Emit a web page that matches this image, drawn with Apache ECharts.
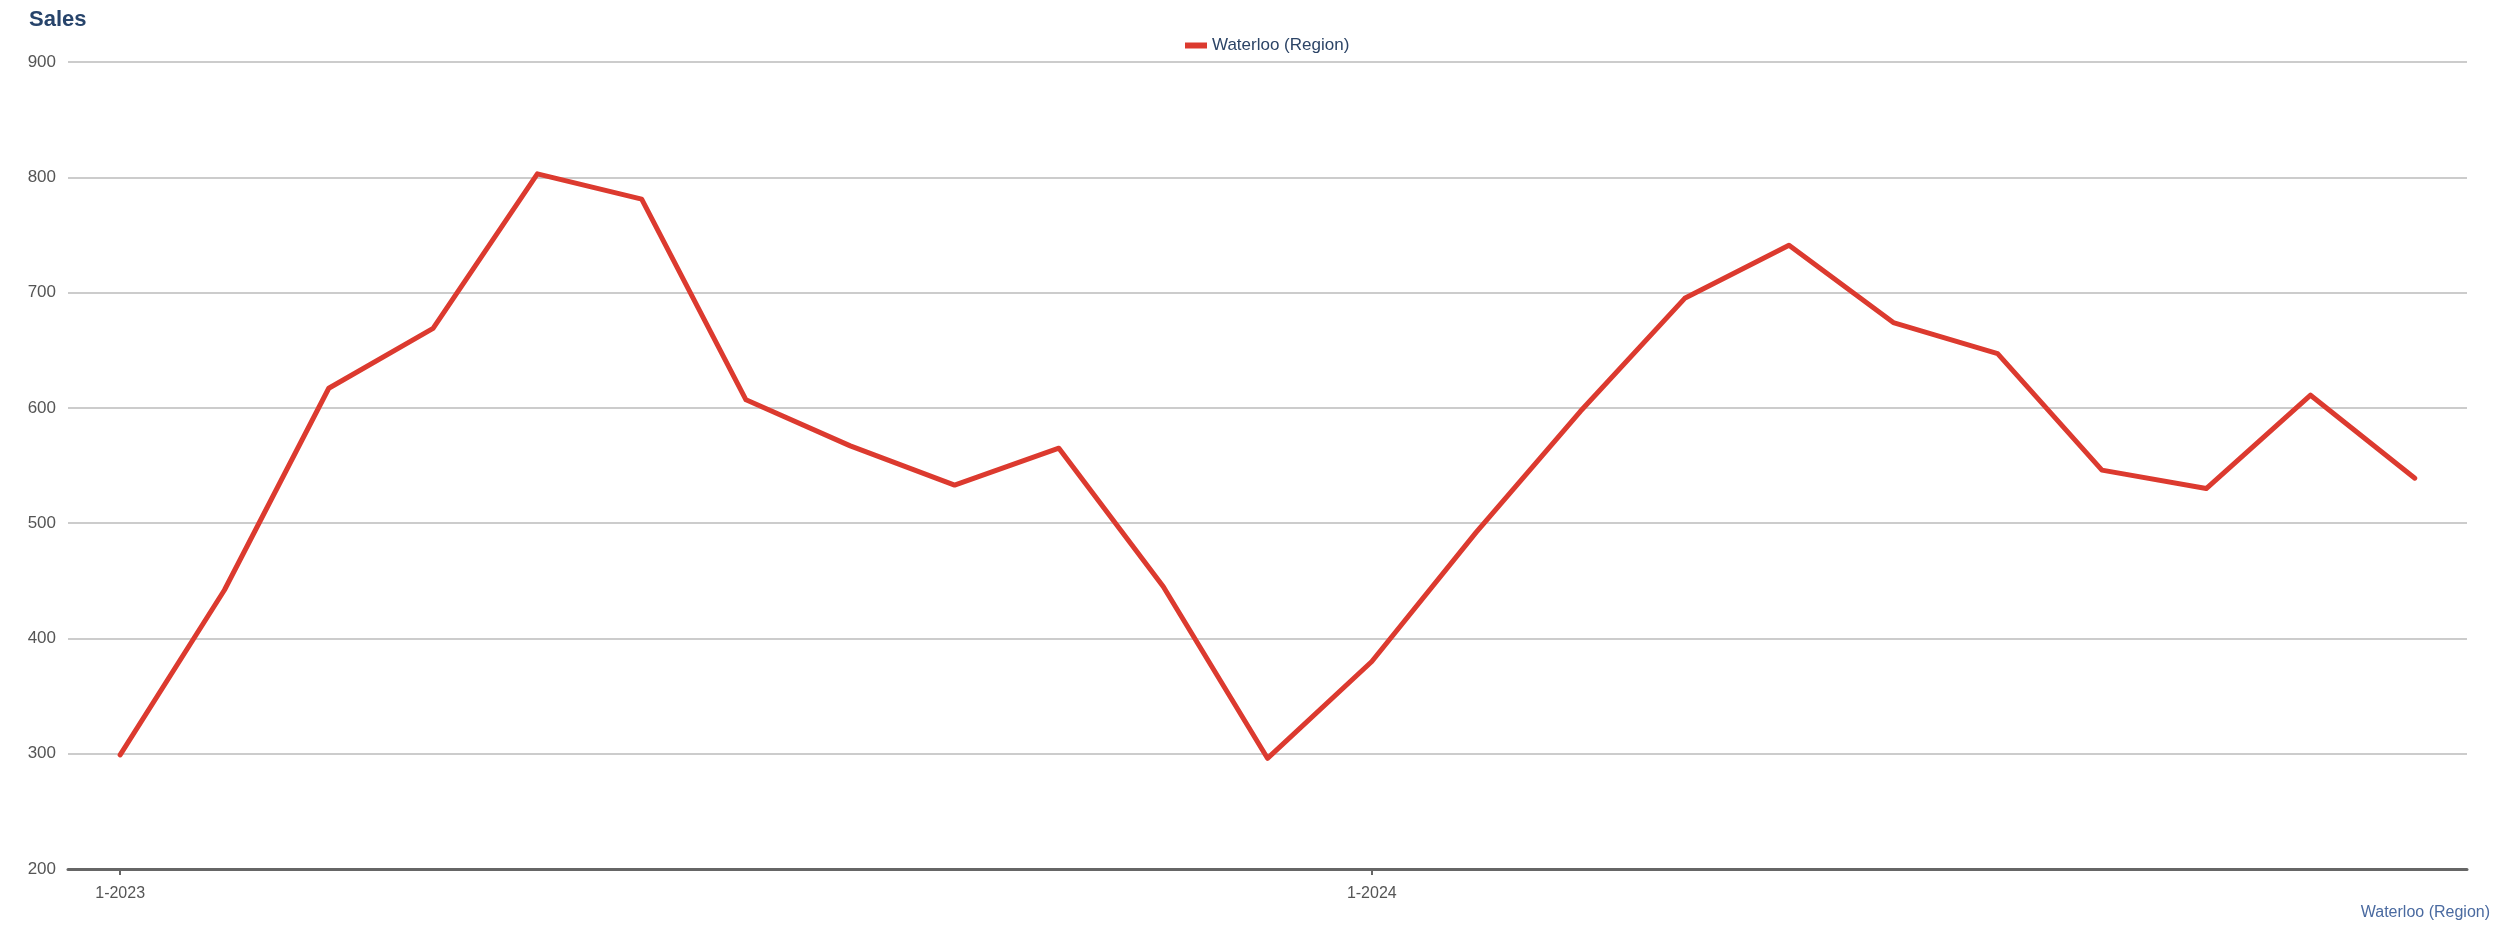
<!DOCTYPE html>
<html>
<head>
<meta charset="utf-8">
<script src="https://cdn.jsdelivr.net/npm/echarts@6/dist/echarts.min.js"></script>
<style>
html,body{margin:0;padding:0;background:#fff;}
#chart{width:2500px;height:929px;}
</style>
</head>
<body>
<div id="chart"></div>
<script>
const categories = ['1-2023','2-2023','3-2023','4-2023','5-2023','6-2023','7-2023','8-2023','9-2023','10-2023','11-2023','12-2023',
  '1-2024','2-2024','3-2024','4-2024','5-2024','6-2024','7-2024','8-2024','9-2024','10-2024','11-2024'];
const salesWaterloo = [299, 442, 617, 669, 803, 781, 607, 567, 533, 565, 445, 296, 380, 492, 597, 695, 741, 674, 647, 546, 530, 611, 539];
const seriesName = 'Waterloo (Region)';
const chartTitle = 'Sales';
const shownLabels = ['1-2023', '1-2024'];

const chart = echarts.init(document.getElementById('chart'));
const fontFam = 'Liberation Sans, Arial, sans-serif';
chart.setOption({
  animation: false,
  backgroundColor: '#ffffff',
  title: [
    { text: chartTitle, left: 24, top: 4, textStyle: { fontFamily: fontFam, fontSize: 22, fontWeight: 'bold', color: '#27446b' } },
    { text: seriesName, right: 5, top: 900, textStyle: { fontFamily: fontFam, fontSize: 16, fontWeight: 'normal', color: '#4a6aa0' } }
  ],
  legend: {
    data: [seriesName],
    left: 1180, top: 32,
    itemWidth: 22, itemHeight: 6, itemGap: 10,
    icon: 'rect',
    textStyle: { fontFamily: fontFam, fontSize: 17, color: '#2c4466' }
  },
  grid: { left: 68, right: 33, top: 62, bottom: 60, containLabel: false },
  xAxis: {
    type: 'category',
    data: categories,
    boundaryGap: true,
    axisLine: { show: true, lineStyle: { color: '#666666', width: 3 } },
    axisTick: { show: true, alignWithLabel: true, length: 6, lineStyle: { color: '#666666', width: 2 },
      interval: (i, v) => shownLabels.includes(v) },
    axisLabel: { interval: (i, v) => shownLabels.includes(v), margin: 17, fontFamily: fontFam, fontSize: 16, color: '#555555' },
    splitLine: { show: false }
  },
  yAxis: {
    type: 'value',
    min: 200, max: 900, interval: 100,
    axisLine: { show: false },
    axisTick: { show: false },
    axisLabel: { margin: 12, verticalAlign: 'middle', padding: [12, 0, 0, 0], fontFamily: fontFam, fontSize: 17, color: '#555555' },
    splitLine: { show: true, lineStyle: { color: '#bbbbbb', width: 1.5 } }
  },
  series: [{
    name: seriesName,
    type: 'line',
    data: salesWaterloo,
    showSymbol: false,
    symbol: 'none',
    color: '#dc3a2f',
    lineStyle: { color: '#dc3a2f', width: 5, cap: 'round', join: 'round' }
  }]
});
</script>
</body>
</html>
